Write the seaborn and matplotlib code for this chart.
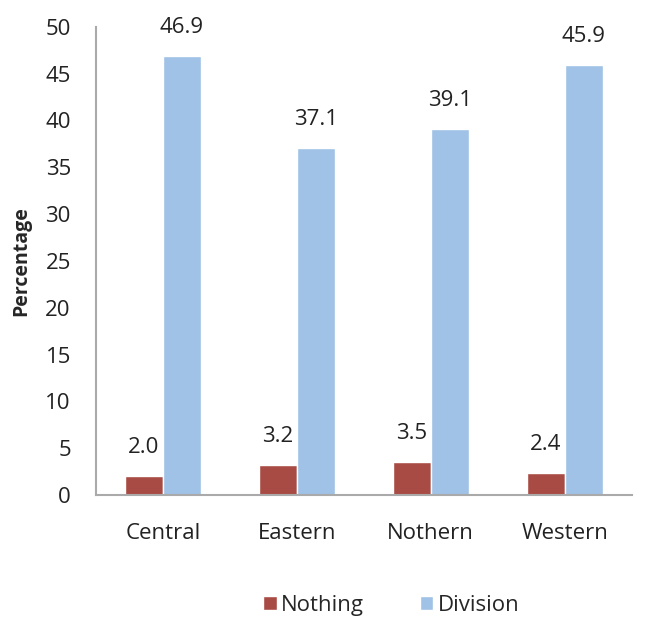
import matplotlib.pyplot as plt
import pandas as pd
import seaborn as sns

# Data
regions = ['Central', 'Eastern', 'Nothern', 'Western']
nothing = [2.0, 3.2, 3.5, 2.4]
division = [46.9, 37.1, 39.1, 45.9]
series = ['Nothing', 'Division']
colors = ['#A84B44', '#A0C2E6']

df = pd.DataFrame({
    'region': regions * 2,
    'value': nothing + division,
    'group': [series[0]] * len(regions) + [series[1]] * len(regions),
})

sns.set_style('white')
plt.rcParams['font.family'] = ['Open Sans', 'DejaVu Sans']

fig = plt.figure(figsize=(6.52, 6.22), dpi=100)
ax = fig.add_axes([0.147, 0.204, 0.822, 0.753])

sns.barplot(data=df, x='region', y='value', hue='group', order=regions,
            hue_order=series, palette=colors, width=0.57, saturation=1,
            ax=ax, legend=True)

for cont in ax.containers:
    ax.bar_label(cont, fmt='%.1f', padding=13, fontsize=16, color='#222222')

ax.set_ylim(0, 50)
ax.set_yticks(range(0, 51, 5))
ax.set_xlim(-0.5, 3.5)
ax.tick_params(axis='both', length=0, labelsize=16, colors='#222222')
ax.tick_params(axis='y', pad=18)
ax.tick_params(axis='x', pad=20)
ax.set_xlabel('')
ax.set_ylabel('Percentage', fontsize=14, fontweight='bold', labelpad=10)

for side in ['top', 'right']:
    ax.spines[side].set_visible(False)
for side in ['left', 'bottom']:
    ax.spines[side].set_color('#AAAAAA')
    ax.spines[side].set_linewidth(1.5)

ax.get_legend().remove()
handles, labels = ax.get_legend_handles_labels()
fig.legend(handles, labels, loc='center', bbox_to_anchor=(0.6, 0.027),
           ncol=2, frameon=False, fontsize=16, handlelength=0.6,
           handleheight=0.6, handletextpad=0.2, columnspacing=2.5)

fig.savefig('out.png', dpi=100)
